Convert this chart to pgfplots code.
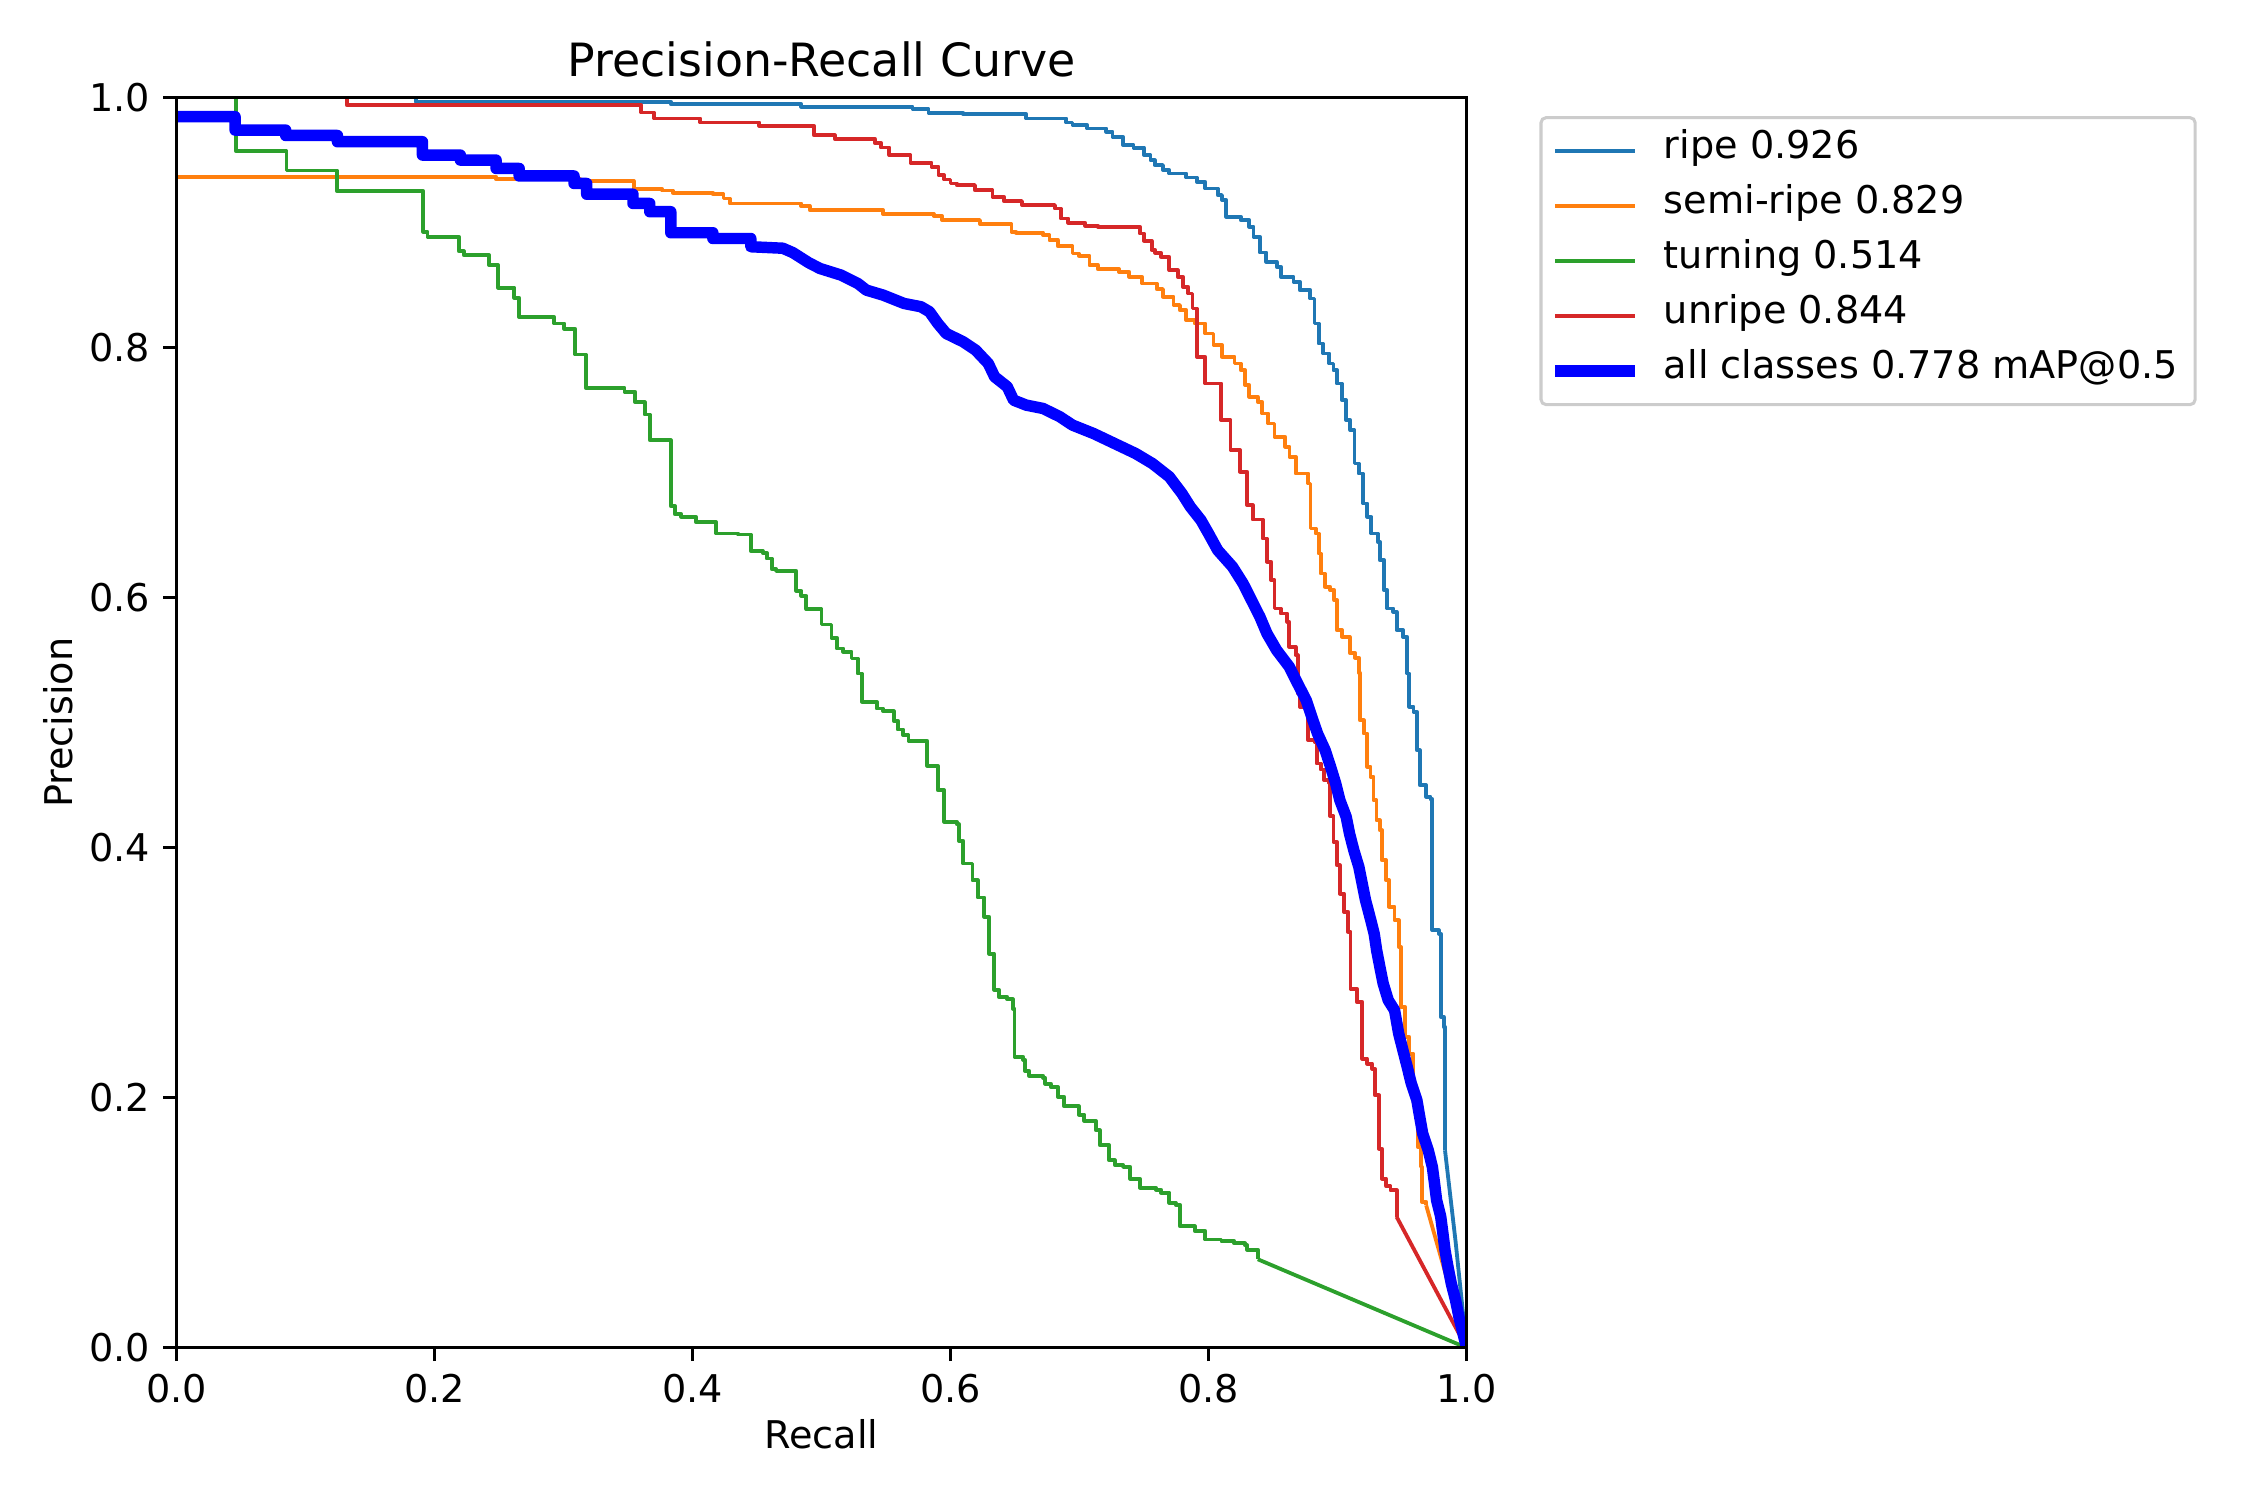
\documentclass[border=0pt]{standalone}
\usepackage{fontspec}
\setmainfont{DejaVu Sans}
\usepackage{pgfplots}
\pgfplotsset{compat=1.18}
\usetikzlibrary{calc}

\definecolor{tabblue}{HTML}{1F77B4}
\definecolor{taborange}{HTML}{FF7F0E}
\definecolor{tabgreen}{HTML}{2CA02C}
\definecolor{tabred}{HTML}{D62728}
\definecolor{allblue}{HTML}{0000FF}

\begin{document}
\begin{tikzpicture}[font=\fontsize{11}{13}\selectfont]
\begin{axis}[
  name=ax,
  scale only axis,
  width=371.5pt, height=360pt,
  xmin=0, xmax=1, ymin=0, ymax=1,
  axis on top,
  xtick={0,0.2,0.4,0.6,0.8,1},
  xticklabels={0.0,0.2,0.4,0.6,0.8,1.0},
  ytick={0,0.2,0.4,0.6,0.8,1},
  yticklabels={0.0,0.2,0.4,0.6,0.8,1.0},
  tick pos=left,
  tick align=outside,
  major tick length=3.85pt,
  minor tick num=0,
  tick style={black, line width=0.88pt},
  axis line style={black, line width=0.88pt},
  xticklabel style={anchor=north, inner sep=0pt, font=\fontsize{11}{13}\selectfont},
  yticklabel style={anchor=east, inner sep=0pt, font=\fontsize{11}{13}\selectfont},
  xticklabel shift=3.4pt,
  yticklabel shift=3.5pt,
  title={Precision-Recall Curve},
  title style={at={(0.5,1)}, anchor=base, inner sep=0pt,
    font=\fontsize{13.2}{15}\selectfont},
  xlabel={Recall},
  xlabel style={at={(0.5,0)}, anchor=base, yshift=-29pt, inner sep=0pt,
    font=\fontsize{11}{13}\selectfont},
  ylabel={Precision},
  ylabel style={at={(-0.0805,0.5)}, rotate=0, anchor=base, inner sep=0pt,
    font=\fontsize{11}{13}\selectfont},
  every axis plot/.append style={line join=round},
  legend cell align=left,
  legend image code/.code={\draw[#1] (0pt,0pt) -- (23pt,0pt);},
  legend style={
    at={(1.0565,0.9852)}, anchor=north west,
    draw=black!20, line width=0.88pt, rounded corners=1.5pt,
    fill=white,
    inner xsep=2.46pt, inner ysep=3.65pt,
    row sep=3.84pt, column sep=6.66pt,
    font=\fontsize{11}{13}\selectfont,
    nodes={inner sep=0pt, text height=8.1pt, text depth=3.9pt},
  },
]

% ripe
\addplot[tabblue, line width=1.1pt, const plot] coordinates {
(0,1.0) (0.1858,0.9967) (0.3832,0.9948) (0.4843,0.9927) (0.5706,0.9908)
(0.583,0.9879) (0.6098,0.9868) (0.6587,0.9833) (0.6897,0.98) (0.6946,0.978)
(0.706,0.9753) (0.7207,0.9727) (0.7256,0.9687) (0.7337,0.962) (0.7419,0.96)
(0.7501,0.954) (0.755,0.95) (0.7582,0.946) (0.7647,0.942) (0.7696,0.9393)
(0.7827,0.9361) (0.7909,0.9327) (0.7974,0.9273) (0.8072,0.922) (0.8104,0.918)
(0.8137,0.9047) (0.8251,0.902) (0.8316,0.8967) (0.8349,0.8887) (0.8398,0.8761)
(0.8447,0.8687) (0.8528,0.8647) (0.856,0.8567) (0.8658,0.8527) (0.8707,0.846)
(0.8789,0.8393) (0.8822,0.8193) (0.8855,0.8033) (0.8887,0.7953) (0.8936,0.7873)
(0.8968,0.782) (0.8995,0.7713) (0.9034,0.758) (0.9066,0.742) (0.9099,0.734)
(0.9132,0.7073) (0.9164,0.6993) (0.9197,0.6753) (0.923,0.6647) (0.9262,0.6513)
(0.9311,0.6447) (0.9328,0.63) (0.936,0.606) (0.9386,0.5913) (0.9432,0.5887)
(0.9458,0.574) (0.9507,0.5687) (0.954,0.5393) (0.9556,0.5127) (0.9589,0.5087)
(0.9615,0.478) (0.9637,0.45) (0.9687,0.4407) (0.972,0.4387) (0.9735,0.334)
(0.9785,0.3313) (0.98,0.2647) (0.9823,0.2567) (0.9833,0.158)
};
\addlegendentry{ripe 0.926}
\addplot[tabblue, line width=1.1pt, forget plot] coordinates {
(0.9833,0.158) (0.9915,0.085) (1,0)
};

% semi-ripe
\addplot[taborange, line width=1.1pt, const plot] coordinates {
(0,0.9367) (0.2478,0.9346) (0.3131,0.9332) (0.3545,0.9268) (0.3767,0.9257)
(0.3848,0.9239) (0.4158,0.9228) (0.424,0.9193) (0.4289,0.9153) (0.4843,0.9132)
(0.4909,0.91) (0.5478,0.9069) (0.5869,0.9053) (0.5934,0.902) (0.6228,0.8989)
(0.6473,0.8927) (0.6506,0.892) (0.6718,0.89) (0.6767,0.886) (0.6832,0.8812)
(0.6946,0.8753) (0.6995,0.8735) (0.7077,0.866) (0.7142,0.8628) (0.7305,0.8607)
(0.7386,0.8567) (0.7484,0.8513) (0.7598,0.8468) (0.7647,0.8407) (0.7729,0.834)
(0.7778,0.83) (0.7827,0.822) (0.7892,0.8193) (0.7974,0.8113) (0.8039,0.802)
(0.8104,0.7927) (0.8202,0.7873) (0.8251,0.782) (0.8284,0.77) (0.8316,0.7607)
(0.8381,0.7567) (0.8414,0.7473) (0.8463,0.7393) (0.8512,0.7287) (0.8594,0.7207)
(0.8627,0.7127) (0.8676,0.6993) (0.8773,0.6913) (0.879,0.6553) (0.8831,0.6513)
(0.8854,0.6353) (0.887,0.6193) (0.8903,0.6087) (0.8943,0.606) (0.8975,0.598)
(0.8995,0.574) (0.9035,0.5687) (0.9094,0.556) (0.9134,0.552) (0.9165,0.54)
(0.9172,0.502) (0.9204,0.4913) (0.923,0.4647) (0.9256,0.4567) (0.9279,0.438)
(0.9302,0.422) (0.9328,0.414) (0.9344,0.39) (0.9377,0.374) (0.94,0.3527)
(0.9442,0.342) (0.9474,0.3207) (0.949,0.2727) (0.9523,0.2487) (0.9556,0.2353)
(0.9588,0.198) (0.9621,0.1607) (0.9647,0.1447) (0.9654,0.1167) (0.9687,0.114)
};
\addlegendentry{semi-ripe 0.829}
\addplot[taborange, line width=1.1pt, forget plot] coordinates {
(0.9687,0.114) (1,0)
};

% turning
\addplot[tabgreen, line width=1.1pt, const plot] coordinates {
(0,1.0) (0.0462,0.957) (0.0853,0.9417) (0.1245,0.925) (0.1914,0.8927)
(0.1946,0.8887) (0.2188,0.8772) (0.2227,0.874) (0.2423,0.866) (0.2494,0.848)
(0.2619,0.8399) (0.2657,0.8244) (0.2929,0.8193) (0.3007,0.815) (0.3092,0.7945)
(0.3173,0.7679) (0.3473,0.7647) (0.3555,0.7564) (0.363,0.7465) (0.3669,0.726)
(0.3832,0.6732) (0.3864,0.6668) (0.3914,0.6646) (0.4028,0.6603) (0.4184,0.6513)
(0.4354,0.6505) (0.4452,0.6375) (0.4544,0.6358) (0.4576,0.6313) (0.4615,0.6228)
(0.4648,0.6214) (0.4805,0.6055) (0.4844,0.6015) (0.4883,0.5908) (0.5,0.5785)
(0.5077,0.5679) (0.5119,0.5594) (0.5168,0.5567) (0.5233,0.5513) (0.5282,0.5393)
(0.5315,0.5167) (0.5429,0.5113) (0.5478,0.5092) (0.556,0.5015) (0.5592,0.4945)
(0.5634,0.49) (0.5674,0.4855) (0.582,0.4655) (0.5902,0.446) (0.5951,0.4207)
(0.6049,0.4188) (0.6065,0.4055) (0.6098,0.3873) (0.617,0.374) (0.6212,0.3602)
(0.6261,0.3447) (0.63,0.3153) (0.6339,0.2865) (0.6374,0.2807) (0.644,0.2788)
(0.6483,0.2713) (0.6496,0.2327) (0.6564,0.2305) (0.6577,0.2215) (0.661,0.2175)
(0.6718,0.2161) (0.6734,0.2113) (0.6776,0.2087) (0.6832,0.2007) (0.6881,0.1932)
(0.6995,0.1865) (0.7037,0.1815) (0.7126,0.174) (0.7158,0.162) (0.723,0.15)
(0.7272,0.1465) (0.7337,0.1447) (0.7393,0.1353) (0.7468,0.1281) (0.7592,0.1265)
(0.7632,0.1241) (0.7696,0.1159) (0.7745,0.1145) (0.7778,0.0972) (0.7892,0.0935)
(0.7974,0.0866) (0.81,0.0852) (0.82,0.0835) (0.8284,0.082) (0.83,0.0785)
(0.8382,0.0708)
};
\addlegendentry{turning 0.514}
\addplot[tabgreen, line width=1.1pt, forget plot] coordinates {
(0.8382,0.0708) (1,0)
};

% unripe
\addplot[tabred, line width=1.1pt, const plot] coordinates {
(0,1.0) (0.132,0.994) (0.3604,0.9881) (0.3702,0.9833) (0.406,0.9801)
(0.4517,0.9775) (0.4941,0.97) (0.5102,0.9671) (0.5412,0.9639) (0.546,0.9601)
(0.5526,0.954) (0.569,0.9479) (0.5853,0.9447) (0.5907,0.938) (0.595,0.9345)
(0.6,0.9313) (0.6049,0.93) (0.6189,0.926) (0.6326,0.9207) (0.6414,0.9172)
(0.6554,0.914) (0.6809,0.9113) (0.6855,0.9033) (0.6913,0.8999) (0.7044,0.8975)
(0.7142,0.8967) (0.7468,0.8913) (0.75,0.8855) (0.7559,0.878) (0.7588,0.8759)
(0.7631,0.8727) (0.7696,0.862) (0.7761,0.8567) (0.7801,0.8487) (0.7843,0.8433)
(0.7876,0.8313) (0.7909,0.7927) (0.7974,0.7713) (0.8098,0.742) (0.8171,0.718)
(0.8244,0.7007) (0.83,0.674) (0.8342,0.6625) (0.8421,0.6473) (0.8454,0.6287)
(0.8486,0.614) (0.8512,0.5913) (0.856,0.5873) (0.861,0.5807) (0.8626,0.5607)
(0.8675,0.554) (0.8691,0.5233) (0.8708,0.5127) (0.8773,0.486) (0.8822,0.4847)
(0.8838,0.4673) (0.8871,0.4625) (0.8897,0.454) (0.893,0.4513) (0.8943,0.4252)
(0.8968,0.4047) (0.8994,0.386) (0.9018,0.3633) (0.905,0.3487) (0.9082,0.3327)
(0.91,0.2873) (0.9149,0.2767) (0.9191,0.2313) (0.923,0.2273) (0.9269,0.2233)
(0.9289,0.202) (0.9321,0.1593) (0.9344,0.1353) (0.9377,0.1295) (0.941,0.126)
(0.9458,0.1047)
};
\addlegendentry{unripe 0.844}
\addplot[tabred, line width=1.1pt, forget plot] coordinates {
(0.9458,0.1047) (1,0)
};

% all classes
\addplot[allblue, line width=3.3pt] coordinates {
(0,0.9847) (0.0455,0.9847) (0.0455,0.974) (0.0847,0.974) (0.0847,0.9697)
(0.1248,0.9697) (0.1248,0.9647) (0.1907,0.9647) (0.1907,0.954) (0.2201,0.954)
(0.2201,0.95) (0.2478,0.95) (0.2478,0.9433) (0.2657,0.9433) (0.2657,0.9373)
(0.3082,0.9373) (0.3082,0.9313) (0.318,0.9313) (0.318,0.9227) (0.3539,0.9227)
(0.3539,0.9153) (0.3669,0.9153) (0.3669,0.9087) (0.3832,0.9087) (0.3832,0.8919)
(0.4158,0.8919) (0.4158,0.8873) (0.4452,0.8873) (0.4452,0.8807) (0.47,0.8795)
(0.4778,0.876) (0.49,0.868) (0.4988,0.8633) (0.5152,0.858) (0.5282,0.8513)
(0.5348,0.846) (0.5478,0.842) (0.5641,0.8353) (0.5771,0.8327) (0.5837,0.8287)
(0.5902,0.8193) (0.5967,0.8113) (0.6098,0.8047) (0.6195,0.798) (0.6293,0.7873)
(0.6342,0.7767) (0.644,0.7687) (0.6489,0.758) (0.6587,0.754) (0.6718,0.7513)
(0.6848,0.7447) (0.6946,0.738) (0.7109,0.7313) (0.7272,0.7233) (0.7435,0.7153)
(0.7565,0.7073) (0.7696,0.6967) (0.7794,0.6833) (0.7859,0.6727) (0.7941,0.662)
(0.80,0.6513) (0.8071,0.638) (0.8186,0.6247) (0.8268,0.6113) (0.8333,0.598)
(0.8398,0.5847) (0.8453,0.5713) (0.8528,0.558) (0.8626,0.5447) (0.8691,0.5313)
(0.8757,0.518) (0.88,0.5047) (0.8845,0.4913) (0.8904,0.478) (0.8946,0.4647)
(0.8986,0.4513) (0.9018,0.438) (0.9067,0.4247) (0.9093,0.4113) (0.9126,0.398)
(0.9165,0.3847) (0.9191,0.3713) (0.9217,0.358) (0.9251,0.3447) (0.9284,0.3313)
(0.9303,0.318) (0.9328,0.3047) (0.9354,0.2913) (0.9393,0.278) (0.9442,0.27)
(0.9474,0.2513) (0.9507,0.238) (0.954,0.2247) (0.9572,0.2113) (0.9615,0.198)
(0.9637,0.1847) (0.966,0.1713) (0.9703,0.158) (0.9735,0.1447) (0.9752,0.1313)
(0.9768,0.118) (0.98,0.1047) (0.9817,0.0913) (0.9833,0.078) (0.9856,0.0647)
(0.9882,0.0513) (0.9915,0.038) (0.9941,0.0247) (1,0)
};
\addlegendentry{all classes 0.778 mAP@0.5\hspace*{2.5pt}}

\end{axis}
\path[use as bounding box] ($(ax.south west)+(-50.8pt,-43.9pt)$) rectangle ($(ax.north east)+(225.6pt,28.1pt)$);
\end{tikzpicture}
\end{document}
